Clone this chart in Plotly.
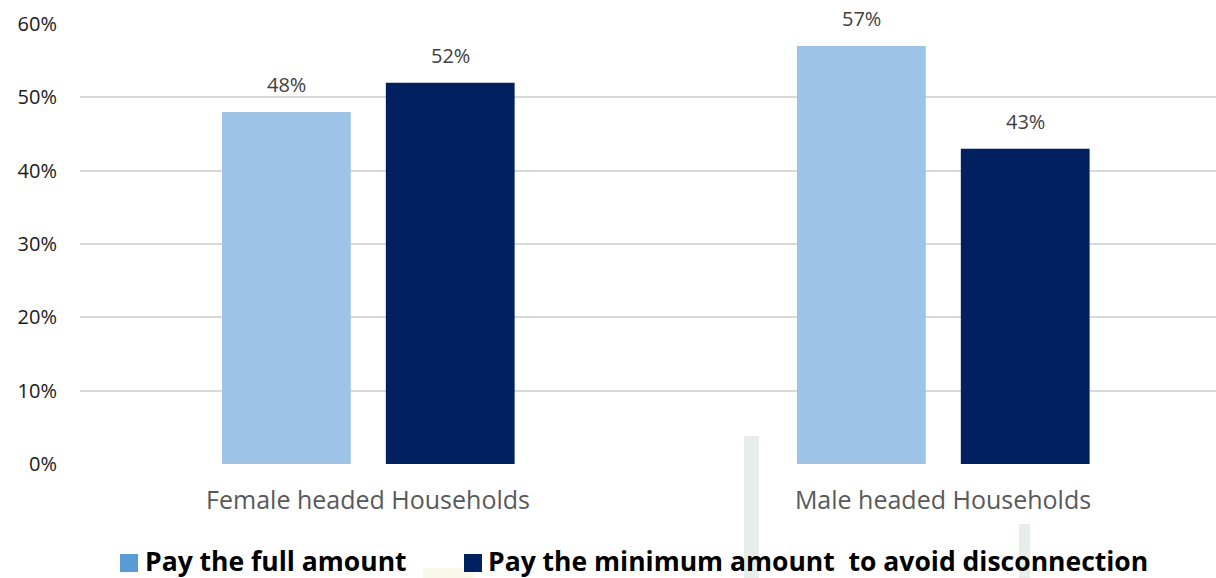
import plotly.graph_objects as go

# Survey data: share of households by bill-payment behaviour
categories = ["Female headed Households", "Male headed Households"]
series_names = ["Pay the full amount", "Pay the minimum amount  to avoid disconnection"]
full_amount = [0.48, 0.57]
minimum_amount = [0.52, 0.43]
y_ticks = [0, 0.1, 0.2, 0.3, 0.4, 0.5, 0.6]
y_tick_labels = ["0%", "10%", "20%", "30%", "40%", "50%", "60%"]

BAR_COLORS = ["#9DC3E6", "#002060"]
SWATCH_COLORS = ["#5B9BD5", "#002060"]
FONT = "Open Sans"

x_pos = list(range(len(categories)))
bar_width = 0.224
offsets = [-0.254, 0.031]

fig = go.Figure()
for name, vals, color, off in zip(series_names, [full_amount, minimum_amount], BAR_COLORS, offsets):
    fig.add_trace(go.Bar(
        x=x_pos, y=vals, name=name, width=bar_width, offset=off,
        marker=dict(color=color, line=dict(width=0)),
        showlegend=False, hoverinfo="skip",
    ))
    for xi, v in zip(x_pos, vals):
        fig.add_annotation(
            x=xi + off + bar_width / 2, y=v, xref="x", yref="y",
            text=f"{round(v * 100)}%", showarrow=False,
            yanchor="bottom", yshift=12,
            font=dict(family=FONT, size=20, color="#404040"),
        )

# faint background pattern strokes
for x0, x1, y0, col in [(744, 759, 436, "#e7eee9"), (1019, 1030, 524, "#e7eee9"), (423, 473, 568, "#f8f9e8")]:
    fig.add_shape(type="rect", xref="paper", yref="paper",
                  x0=(x0 - 80) / 1136, x1=(x1 - 80) / 1136,
                  y0=-114 / 440, y1=(464 - y0) / 440,
                  fillcolor=col, line=dict(width=0), layer="below")

# legend built from swatches and bold labels
legend_items = [(120, 143), (464, 486)]
for (sx, tx), name, col in zip(legend_items, series_names, SWATCH_COLORS):
    fig.add_shape(type="rect", xref="paper", yref="paper",
                  x0=(sx - 80) / 1136, x1=(sx + 18 - 80) / 1136,
                  y0=(464 - 572) / 440, y1=(464 - 554) / 440,
                  fillcolor=col, line=dict(width=0))
    fig.add_annotation(x=(tx - 80) / 1136, y=(464 - 561) / 440, xref="paper", yref="paper",
                       text=f"<b>{name}</b>", showarrow=False, xanchor="left", yanchor="middle",
                       font=dict(family=FONT, size=26.5, color="#000000"))

fig.update_layout(
    width=1216, height=578,
    margin=dict(l=80, r=0, t=24, b=114),
    paper_bgcolor="white", plot_bgcolor="white",
    barmode="overlay",
    xaxis=dict(
        range=[-0.5009, 1.4748], tickvals=x_pos, ticktext=categories,
        showgrid=False, zeroline=False, showline=False, ticks="",
        tickfont=dict(family=FONT, size=25, color="#595959"),
        ticklabelstandoff=19,
    ),
    yaxis=dict(
        range=[0, 0.6], tickvals=y_ticks, ticktext=y_tick_labels,
        showgrid=True, gridcolor="#d9d9d9", gridwidth=1.5,
        zeroline=False, showline=False, ticks="",
        tickfont=dict(family=FONT, size=20, color="#1a1a1a"),
        ticklabelstandoff=22,
    ),
)

fig.write_html("out.html")
